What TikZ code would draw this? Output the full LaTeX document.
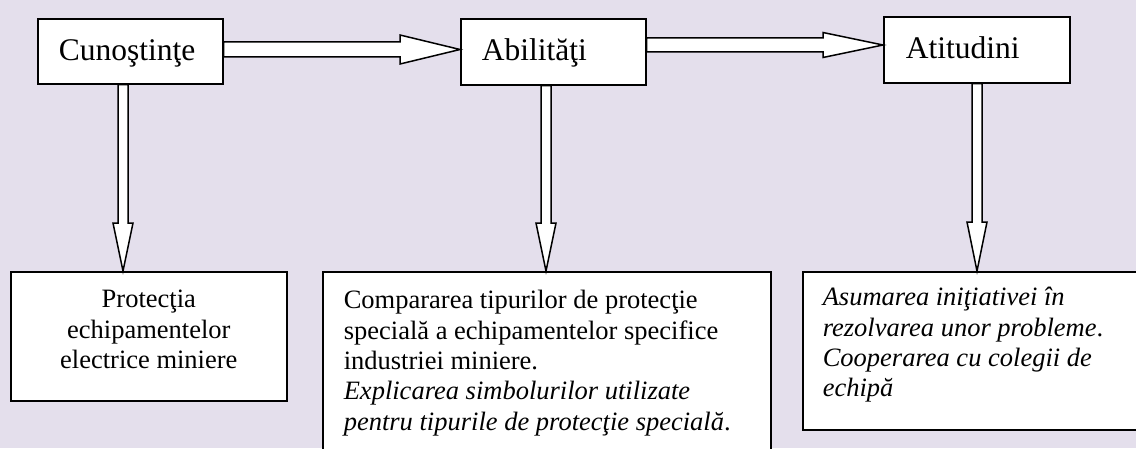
\documentclass[tikz,border=0pt]{standalone}
\usepackage{fontspec}
\setmainfont{Liberation Serif}
\usetikzlibrary{calc}
\definecolor{bgc}{HTML}{E4DFEC}
% horizontal block arrow: from node #1 (east) to node #2 (west), centre y #3, shaft half #4, head half #5, head length #6
\newcommand\hblk[6]{\draw[blk] let \p1=(#1.east), \p2=(#2.west) in
  (\x1,#3-#4) -- (\x2-#6,#3-#4) -- (\x2-#6,#3-#5) -- (\x2,#3) -- (\x2-#6,#3+#5) -- (\x2-#6,#3+#4) -- (\x1,#3+#4) -- cycle;}
% vertical block arrow: from node #1 (south) to node #2 (north), at x #3
\newcommand\vblk[6]{\draw[blk] let \p1=(#1.south), \p2=(#2.north) in
  (#3-#4,\y1) -- (#3-#4,\y2+#6) -- (#3-#5,\y2+#6) -- (#3,\y2) -- (#3+#5,\y2+#6) -- (#3+#4,\y2+#6) -- (#3+#4,\y1) -- cycle;}
\newcommand\bottomfont{\fontsize{26.5}{30.4}\selectfont}
\newcommand\topfont{\fontsize{31.5}{36}\selectfont}
\begin{document}
\begin{tikzpicture}[x=1pt,y=1pt,
  box/.style={draw=black,line width=1.6pt,fill=white,inner sep=0pt,anchor=north west},
  blk/.style={draw=black,fill=white,line width=1.5pt,line join=miter}]
\clip (0,0) rectangle (1136,448);
\fill[bgc] (0,0) rectangle (1136,448);
\useasboundingbox (0,0) rectangle (1136,448);

\node[box] (A) at (37,430) {\parbox[c][65pt][t]{185pt}{\topfont\raggedright\leftskip=21pt\relax\vspace*{16.8pt}\strut Cunoştinţe}};
\node[box] (B) at (460,430) {\parbox[c][66pt][t]{185pt}{\topfont\raggedright\leftskip=21pt\relax\vspace*{16.8pt}\strut Abilităţi}};
\node[box] (C) at (883,432) {\parbox[c][66pt][t]{186pt}{\topfont\raggedright\leftskip=22pt\relax\vspace*{16.3pt}\strut Atitudini}};

\node[box] (D) at (10,177) {\parbox[c][129pt][t]{276pt}{\bottomfont\centering\vspace*{14.7pt}\strut Protecţia\\echipamentelor\\electrice miniere}};
\node[box] (E) at (322,177) {\parbox[c][190pt][t]{448pt}{\bottomfont\raggedright\leftskip=21pt\relax\vspace*{15.7pt}\strut Compararea tipurilor de protecţie\\specială a echipamentelor specifice\\industriei miniere.\\\textit{Explicarea simbolurilor utilizate}\\\textit{pentru tipurile de protecţie specială}.}};
\node[box] (F) at (802,177) {\parbox[c][158pt][t]{345pt}{\bottomfont\raggedright\leftskip=20pt\relax\vspace*{12.7pt}\strut\textit{Asumarea iniţiativei în}\\\textit{rezolvarea unor probleme}.\\\textit{Cooperarea cu colegii de}\\\textit{echipă}}};

\hblk{A}{B}{398.5pt}{7.5pt}{14.5pt}{60pt}
\hblk{B}{C}{403pt}{7pt}{12.5pt}{60pt}
\vblk{A}{D}{123pt}{5pt}{10pt}{48pt}
\vblk{B}{E}{546pt}{5pt}{10pt}{48pt}
\vblk{C}{F}{977pt}{5pt}{10pt}{49pt}
\end{tikzpicture}
\end{document}
